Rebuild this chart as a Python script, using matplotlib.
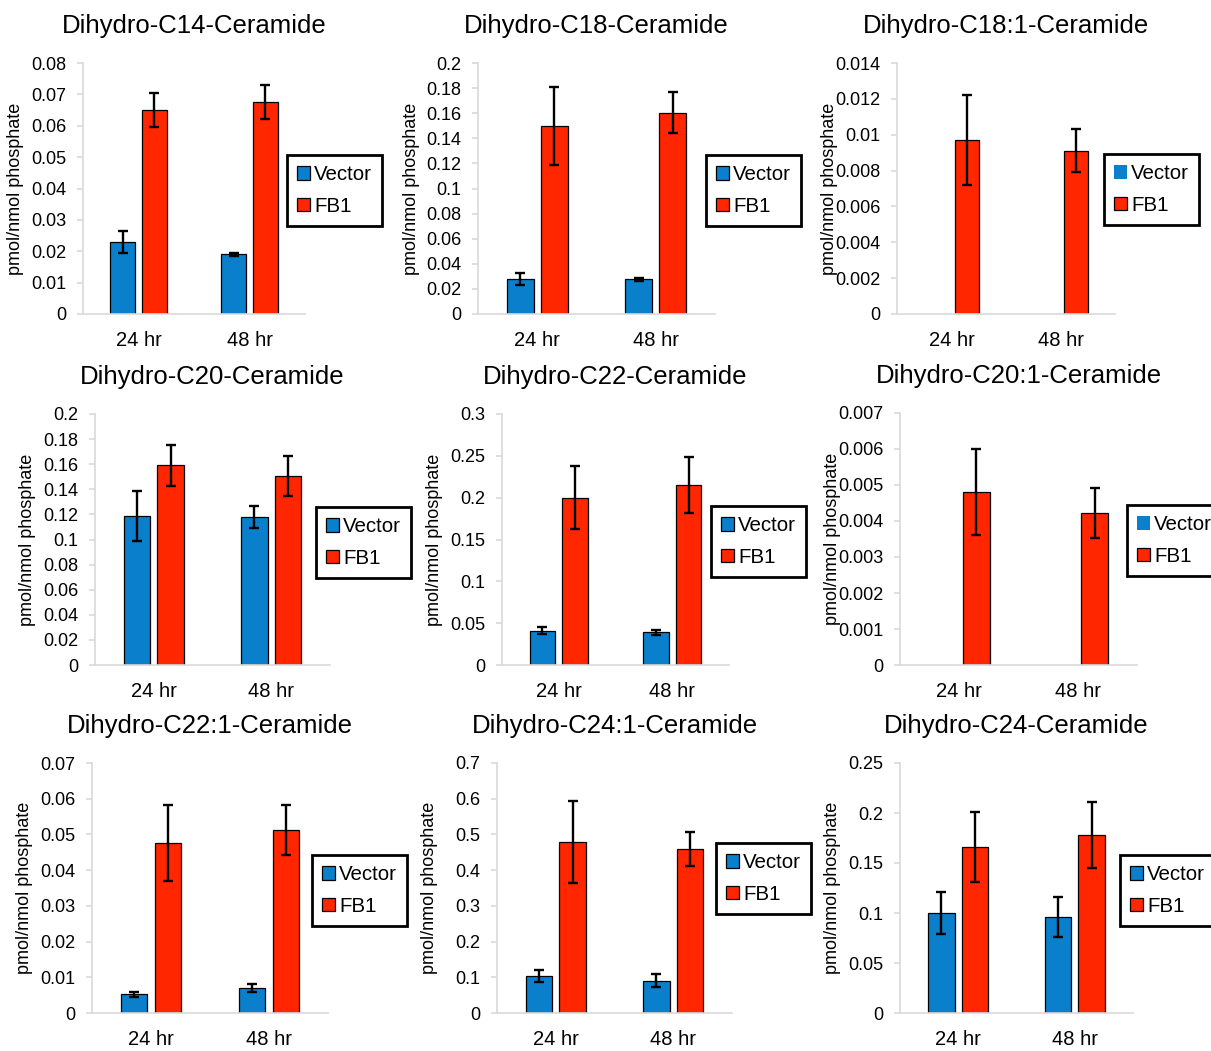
import numpy as np
import matplotlib
matplotlib.use('Agg')
import matplotlib.pyplot as plt
from matplotlib.ticker import FuncFormatter, MultipleLocator

plt.rcParams['font.family'] = ['Liberation Sans', 'DejaVu Sans']

# --- data ---
titles = ['Dihydro-C14-Ceramide', 'Dihydro-C18-Ceramide', 'Dihydro-C18:1-Ceramide',
          'Dihydro-C20-Ceramide', 'Dihydro-C22-Ceramide', 'Dihydro-C20:1-Ceramide',
          'Dihydro-C22:1-Ceramide', 'Dihydro-C24:1-Ceramide', 'Dihydro-C24-Ceramide']
timepoints = ['24 hr', '48 hr']
groups = ['Vector', 'FB1']

vector_mean = [[0.023, 0.019], [0.028, 0.0275], [0, 0],
               [0.1185, 0.118], [0.041, 0.039], [0, 0],
               [0.0052, 0.007], [0.104, 0.090], [0.100, 0.096]]
vector_err = [[0.0035, 0.0006], [0.0045, 0.0013], [0, 0],
              [0.020, 0.009], [0.004, 0.003], [0, 0],
              [0.0006, 0.0012], [0.016, 0.018], [0.021, 0.020]]
fb1_mean = [[0.065, 0.0675], [0.150, 0.1605], [0.0097, 0.0091],
            [0.159, 0.1505], [0.200, 0.2155], [0.0048, 0.00422],
            [0.0477, 0.0513], [0.480, 0.460], [0.166, 0.178]]
fb1_err = [[0.0055, 0.0055], [0.031, 0.0165], [0.0025, 0.0012],
           [0.0165, 0.016], [0.038, 0.0335], [0.0012, 0.0007],
           [0.0106, 0.007], [0.115, 0.047], [0.035, 0.033]]
y_max = [0.08, 0.2, 0.014, 0.2, 0.3, 0.007, 0.07, 0.7, 0.25]
y_step = [0.01, 0.02, 0.002, 0.02, 0.05, 0.001, 0.01, 0.1, 0.05]

# --- layout (pixels: left, top, right, bottom) ---
W, H = 1211, 1051
axes_px = [(83, 63, 305, 314), (478, 63, 715, 314), (897, 63, 1115, 314),
           (95, 414, 330, 665), (502, 414, 729, 665), (900, 413, 1137, 665),
           (92, 763, 328, 1013), (497, 763, 732, 1013), (900, 763, 1133, 1013)]
legend_px = [(287, 155), (706, 155), (1104, 154),
             (316, 507), (711, 506), (1127, 505),
             (312, 855), (716, 843), (1120, 855)]

BLUE = '#0a7fcb'
RED = '#ff2600'
GRID = '#d9d9d9'

fig = plt.figure(figsize=(W / 100, H / 100), dpi=100)

x = np.arange(len(timepoints))
width = 0.225
off = 0.144

for i in range(9):
    l, t, r, b = axes_px[i]
    ax = fig.add_axes([l / W, 1 - b / H, (r - l) / W, (b - t) / H])

    vm = vector_mean[i]
    lw_v = 0.9 if any(v > 0 for v in vm) else 0
    bv = ax.bar(x - off, vm, width, color=BLUE, edgecolor='black', linewidth=lw_v,
                label=groups[0], zorder=2)
    bf = ax.bar(x + off, fb1_mean[i], width, color=RED, edgecolor='black', linewidth=0.9,
                label=groups[1], zorder=2)
    ekw = dict(fmt='none', ecolor='black', elinewidth=1.7, capsize=3.5, capthick=1.7, zorder=3)
    if lw_v > 0:
        ax.errorbar(x - off, vm, yerr=vector_err[i], **ekw)
    ax.errorbar(x + off, fb1_mean[i], yerr=fb1_err[i], **ekw)

    ax.set_xlim(-0.5, 1.5)
    ax.set_ylim(0, y_max[i])
    ax.yaxis.set_major_locator(MultipleLocator(y_step[i]))
    ax.yaxis.set_major_formatter(FuncFormatter(lambda v, _: f'{round(v, 6):g}'))
    ax.set_xticks(x)
    ax.set_xticklabels(timepoints)

    for s in ['top', 'right']:
        ax.spines[s].set_visible(False)
    for s in ['left', 'bottom']:
        ax.spines[s].set_color(GRID)
        ax.spines[s].set_linewidth(1.2)
    ax.tick_params(axis='y', length=4, width=1.2, color=GRID, labelsize=13, pad=8)
    ax.tick_params(axis='x', length=0, labelsize=14.5, pad=12)

    ax.set_ylabel('pmol/nmol phosphate', fontsize=13, va='center')
    ax.yaxis.set_label_coords(-67 / (r - l), 0.5)

    ax.annotate(titles[i], xy=(0.5, 1), xycoords='axes fraction',
                xytext=(0, 37 * 0.72), textcoords='offset points',
                ha='center', va='center', fontsize=18.5)

    lx, ly = legend_px[i]
    leg = ax.legend(handles=[bv, bf], loc='upper left',
                    bbox_to_anchor=(lx / W, 1 - ly / H), bbox_transform=fig.transFigure,
                    fontsize=14.8, frameon=True, fancybox=False, framealpha=1,
                    borderaxespad=0, handlelength=0.62, handleheight=0.62,
                    handletextpad=0.2, labelspacing=0.62, borderpad=0.5)
    leg.get_frame().set_edgecolor('black')
    leg.get_frame().set_linewidth(2)

fig.savefig('out.png', dpi=100)
